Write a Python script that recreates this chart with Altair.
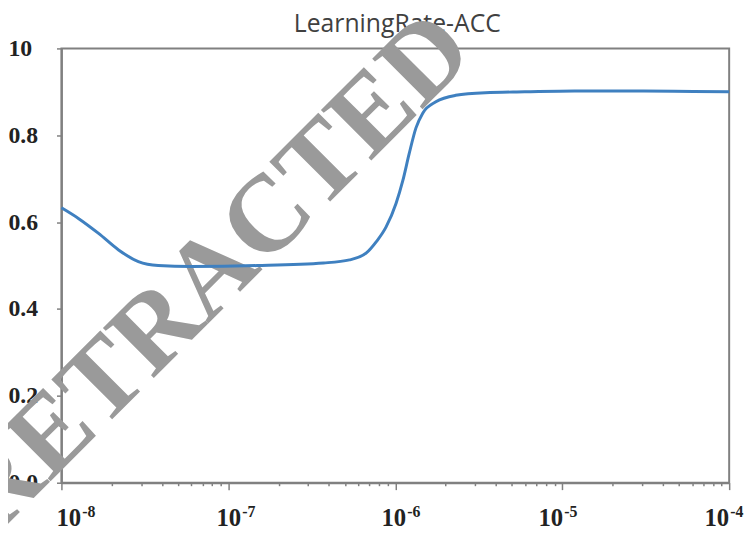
import altair as alt
import pandas as pd

# ---- data ----
learning_rate = [1.0e-8, 1.27e-8, 1.67e-8, 2.20e-8, 2.89e-8, 3.80e-8, 5.97e-8,
                 1.49e-7, 3.72e-7, 5.32e-7, 6.71e-7, 7.70e-7, 8.81e-7,
                 1.01e-6, 1.11e-6, 1.21e-6, 1.33e-6, 1.46e-6, 1.75e-6, 2.30e-6,
                 3.46e-6, 5.97e-6, 1.18e-5, 3.08e-5, 6.11e-5, 1.0e-4]
accuracy = [0.633, 0.608, 0.574, 0.536, 0.509, 0.500, 0.498,
            0.500, 0.506, 0.513, 0.529, 0.555, 0.589,
            0.643, 0.696, 0.757, 0.817, 0.851, 0.877, 0.892,
            0.898, 0.900, 0.902, 0.902, 0.901, 0.900]

decade_values = [1e-8, 1e-7, 1e-6, 1e-5, 1e-4]
decade_base = ["10", "10", "10", "10", "10"]
decade_exp = ["-8", "-7", "-6", "-5", "-4"]
y_ticks = [0.0, 0.2, 0.4, 0.6, 0.8, 1.0]
minor_ticks = [k * d for d in decade_values[:-1] for k in range(1, 10)] + [1e-4]

title_text = ["LearningRate-ACC"]
watermark_text = ["RETRACTED"]
watermark_lr = [8.0e-8]
watermark_acc = [0.482]

# ---- styles ----
label_dx = [20, 13, 11, 1, 0]
serif = "Liberation Serif"
axis_gray = "#808080"
W, H = 675, 439

df = pd.DataFrame({"lr": learning_rate, "acc": accuracy})
dec_df = pd.DataFrame({"lr": decade_values, "base": decade_base, "exp": decade_exp})
wm_df = pd.DataFrame({"lr": watermark_lr, "acc": watermark_acc, "t": watermark_text})
title_df = pd.DataFrame({"t": title_text})

decade_test = "abs(log(datum.value)/LN10 - round(log(datum.value)/LN10)) < 1e-6"

x_scale = alt.Scale(type="log", domain=[1e-8, 1e-4], nice=False)
y_scale = alt.Scale(domain=[0, 1], nice=False)

x_axis = alt.Axis(values=minor_ticks, labels=False, title=None, grid=False,
                  domainColor=axis_gray, domainWidth=2, tickColor=axis_gray,
                  tickWidth=1.5,
                  tickSize={"condition": {"test": decade_test, "value": 7}, "value": 3})
y_axis = alt.Axis(values=y_ticks, title=None, grid=False,
                  labelExpr="datum.value == 1 ? '10' : format(datum.value, '.1f')",
                  labelAlign="left", labelPadding=49, labelFont=serif,
                  labelFontWeight="bold", labelFontSize=24, labelColor="#222222",
                  domainColor=axis_gray, domainWidth=2, tickColor=axis_gray,
                  tickWidth=1.5, tickSize=5)

title = alt.Chart(title_df).mark_text(
    font="Open Sans", fontSize=25, color="#404040", align="center", baseline="alphabetic"
).encode(x=alt.value(W / 2 + 2), y=alt.value(-17), text="t:N")

watermark = alt.Chart(wm_df).mark_text(
    angle=315, font=serif, fontSize=110, fontWeight="bold",
    fill="#9a9a9a", fillOpacity=1, strokeOpacity=0,
    align="center", baseline="middle"
).encode(
    x=alt.X("lr:Q", scale=x_scale, axis=x_axis),
    y=alt.Y("acc:Q", scale=y_scale, axis=y_axis),
    text="t:N",
)

line = alt.Chart(df).mark_line(color="#3f80c0", strokeWidth=3, interpolate="monotone").encode(
    x=alt.X("lr:Q", scale=x_scale, axis=x_axis),
    y=alt.Y("acc:Q", scale=y_scale, axis=y_axis),
)

label_layers = []
for i, v in enumerate(decade_values):
    sub = alt.Chart(dec_df).transform_filter(alt.datum.lr == v)
    base = sub.mark_text(font=serif, fontWeight="bold", fontSize=25, color="#222222",
                         align="right", baseline="alphabetic", dx=label_dx[i]).encode(
        x=alt.X("lr:Q", scale=x_scale), y=alt.value(483), text="base:N")
    sup = sub.mark_text(font=serif, fontWeight="bold", fontSize=16, color="#222222",
                        align="left", baseline="alphabetic", dx=label_dx[i] + 1).encode(
        x=alt.X("lr:Q", scale=x_scale), y=alt.value(474), text="exp:N")
    label_layers += [base, sup]

chart = alt.layer(title, watermark, line, *label_layers).properties(
    width=W, height=H,
    autosize=alt.AutoSizeParams(type="none"),
    padding={"left": 54, "top": 38, "right": 16, "bottom": 51},
).configure_view(stroke=axis_gray, strokeWidth=2)

chart.save("out.html", embed_options={"renderer": "svg", "actions": False})
